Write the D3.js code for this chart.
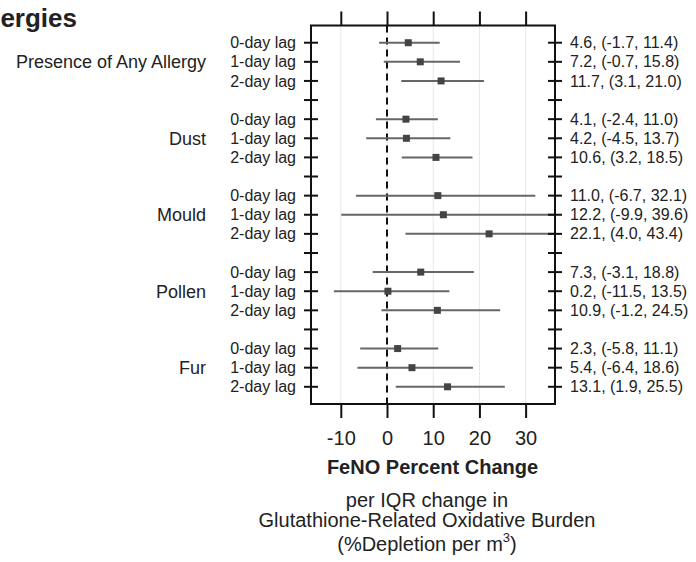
<html lang="en">
  <head>
    <meta charset="utf-8">
    <title>allergies forest</title>
    <script src="https://d3js.org/d3.v7.min.js"></script>
    <style>
      body { margin: 0; background: #fff; }
      svg text { font-family: "Liberation Sans", Arial, sans-serif; fill: #222; }
      .grid line { stroke: #e8e8e8; stroke-width: 1; }
    </style>
  </head>
  <body>
    <svg id="chart" width="696" height="562"></svg>
    <script>

      const groups = ['Presence of Any Allergy', 'Dust', 'Mould', 'Pollen', 'Fur']
      const lags = ['0-day lag', '1-day lag', '2-day lag']

      // percent change and 95% CI, in group order, 0/1/2-day lag
      const estimate = [4.6, 7.2, 11.7, 4.1, 4.2, 10.6, 11.0, 12.2, 22.1, 7.3, 0.2, 10.9, 2.3, 5.4, 13.1]
      const lower = [-1.7, -0.7, 3.1, -2.4, -4.5, 3.2, -6.7, -9.9, 4.0, -3.1, -11.5, -1.2, -5.8, -6.4, 1.9]
      const upper = [11.4, 15.8, 21.0, 11.0, 13.7, 18.5, 32.1, 39.6, 43.4, 18.8, 13.5, 24.5, 11.1, 18.6, 25.5]

      const xTicks = [-10, 0, 10, 20, 30]

      // plain hyphen for negatives, like the original
      const locale = d3.formatLocale({ decimal: '.', thousands: ',', grouping: [3], currency: ['', ''], minus: '-' })
      const f = locale.format('.1f')

      const svg = d3.select('#chart')
      const box = { left: 311, right: 555, top: 25.5, bottom: 404 }

      const x = d3.scaleLinear().domain([-16.45, 36.36]).range([box.left, box.right])
      // 3 rows per group + 1 spacer row between groups
      const nPos = groups.length * 4 - 1
      const y = d3.scaleLinear().domain([-0.9, nPos - 1 + 0.9]).range([box.top, box.bottom])

      const rows = []
      groups.forEach((g, gi) => {
        lags.forEach((l, li) => {
          const i = gi * 3 + li
          rows.push({ group: g, lag: l, pos: gi * 4 + li, est: estimate[i], lo: lower[i], hi: upper[i] })
        })
      })

      svg.append('defs').append('clipPath').attr('id', 'clip')
        .append('rect')
        .attr('x', box.left).attr('y', box.top)
        .attr('width', box.right - box.left).attr('height', box.bottom - box.top)

      // faint grid
      svg.append('g').attr('class', 'grid')
        .selectAll('line').data(xTicks).join('line')
        .attr('x1', d => x(d)).attr('x2', d => x(d))
        .attr('y1', box.top).attr('y2', box.bottom)

      // zero line
      svg.append('line')
        .attr('x1', x(0)).attr('x2', x(0))
        .attr('y1', box.top).attr('y2', box.bottom)
        .attr('stroke', '#111').attr('stroke-width', 2)
        .attr('stroke-dasharray', '7,5')

      const marks = svg.append('g').attr('clip-path', 'url(#clip)')
      marks.selectAll('line').data(rows).join('line')
        .attr('x1', d => x(d.lo)).attr('x2', d => x(d.hi))
        .attr('y1', d => y(d.pos)).attr('y2', d => y(d.pos))
        .attr('stroke', '#666').attr('stroke-width', 2)
      marks.selectAll('rect').data(rows).join('rect')
        .attr('x', d => x(d.est) - 3.5).attr('y', d => y(d.pos) - 3.5)
        .attr('width', 7).attr('height', 7)
        .attr('fill', '#444')

      // frame
      svg.append('rect')
        .attr('x', box.left).attr('y', box.top)
        .attr('width', box.right - box.left).attr('height', box.bottom - box.top)
        .attr('fill', 'none').attr('stroke', '#111').attr('stroke-width', 2)

      // x axes
      const xAxis = svg.append('g').attr('transform', `translate(0,${box.bottom})`)
        .call(d3.axisBottom(x).tickValues(xTicks).tickFormat(locale.format('d'))
          .tickSize(14).tickSizeOuter(0).tickPadding(13))
      xAxis.select('.domain').remove()
      xAxis.selectAll('line').attr('stroke', '#111').attr('stroke-width', 2)
      xAxis.selectAll('text').attr('font-size', 20).attr('fill', '#222')

      const topAxis = svg.append('g').attr('transform', `translate(0,${box.top})`)
        .call(d3.axisTop(x).tickValues(xTicks).tickSize(14).tickFormat(''))
      topAxis.select('.domain').remove()
      topAxis.selectAll('line').attr('stroke', '#111').attr('stroke-width', 2)

      // y ticks, crossing both side lines
      const positions = d3.range(nPos)
      ;[box.left, box.right].forEach(bx => {
        svg.append('g').selectAll('line').data(positions).join('line')
          .attr('x1', bx - 7).attr('x2', bx + 7)
          .attr('y1', d => y(d)).attr('y2', d => y(d))
          .attr('stroke', '#111').attr('stroke-width', 2)
      })

      // labels
      svg.append('g').selectAll('text').data(rows).join('text')
        .attr('x', box.left - 15).attr('y', d => y(d.pos))
        .attr('dy', '0.35em').attr('text-anchor', 'end')
        .attr('font-size', 16)
        .text(d => d.lag)

      svg.append('g').selectAll('text').data(rows).join('text')
        .attr('x', box.right + 15).attr('y', d => y(d.pos))
        .attr('dy', '0.35em')
        .attr('font-size', 16)
        .text(d => `${f(d.est)}, (${f(d.lo)}, ${f(d.hi)})`)

      svg.append('g').selectAll('text').data(groups).join('text')
        .attr('x', 206).attr('y', (d, i) => y(i * 4 + 1))
        .attr('dy', '0.35em').attr('text-anchor', 'end')
        .attr('font-size', 18)
        .text(d => d)

      svg.append('text')
        .attr('x', 77).attr('y', 27)
        .attr('text-anchor', 'end')
        .attr('font-size', 26).attr('font-weight', 'bold')
        .text('Allergies')

      svg.append('text')
        .attr('x', 432.5).attr('y', 474)
        .attr('text-anchor', 'middle')
        .attr('font-size', 20).attr('font-weight', 'bold')
        .text('FeNO Percent Change')

      const sub = svg.append('g').attr('font-size', 20).attr('text-anchor', 'middle')
      sub.append('text').attr('x', 427).attr('y', 507).text('per IQR change in')
      sub.append('text').attr('x', 427).attr('y', 527).text('Glutathione-Related Oxidative Burden')
      const t3 = sub.append('text').attr('x', 427).attr('y', 551)
      t3.append('tspan').text('(%Depletion per m')
      t3.append('tspan').attr('font-size', 13).attr('dy', -9).text('3')
      t3.append('tspan').attr('dy', 9).text(')')
    </script>
  </body>
</html>
